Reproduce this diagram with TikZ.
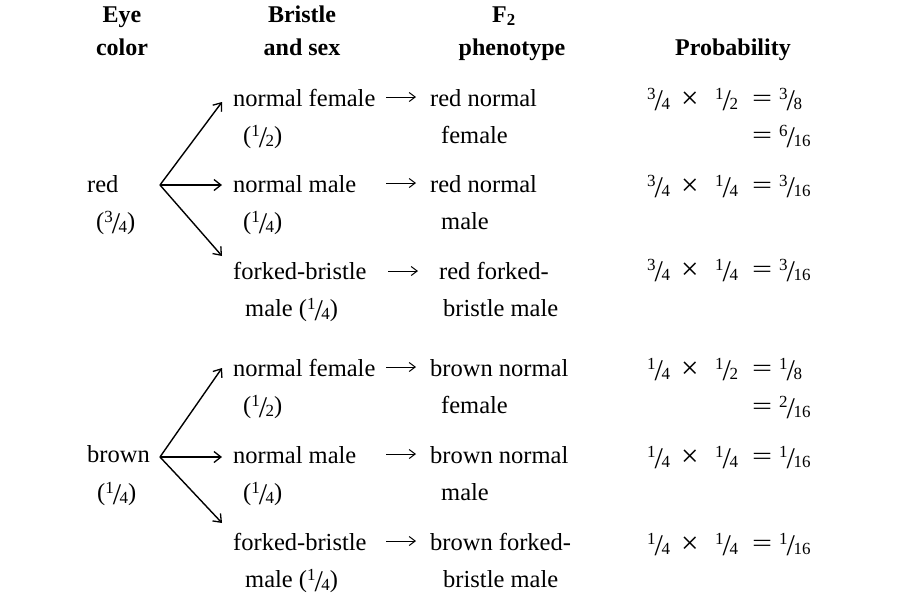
\documentclass[tikz,border=0pt]{standalone}
\usepackage{fontspec}
\setmainfont{Liberation Serif}
\usetikzlibrary{arrows.meta}
\newcommand\fr[2]{\raisebox{7pt}{\fontsize{17}{17}\selectfont #1}\kern-1pt\raisebox{-4pt}{\fontsize{30}{30}\selectfont /}\kern-1.5pt\raisebox{-3.5pt}{\fontsize{17}{17}\selectfont #2}}
\newcommand\eqs{\scalebox{1.45}[1]{=}}
\newcommand\tms{\raisebox{-2pt}{\fontsize{31}{31}\selectfont ×}}
\begin{document}
\begin{tikzpicture}[x=1pt,y=-1pt,
  txt/.style={inner sep=0pt,anchor=base west,font=\fontsize{24.5}{30}\selectfont},
  hd/.style={inner sep=0pt,anchor=base,font=\fontsize{24}{30}\selectfont\bfseries},
  forkarr/.style={-{Straight Barb[length=7pt,width=11pt,line width=1.3pt]},line width=1.4pt},
  txtarr/.style={-{Straight Barb[length=6pt,width=9pt,line width=1pt]},line width=1pt}]
\useasboundingbox (0,0) rectangle (900,598);
\newcommand\prow[5]{%
  \node[txt] (#1a) at (647,#2) {#3};
  \node[txt] (#1x) at (681,#2) {\tms};
  \node[txt] (#1b) at (715,#2) {#4};
  \node[txt] (#1e) at (752,#2) {\eqs};
  \node[txt] (#1r) at (779,#2) {#5};}
% headers
\node[hd] (h1a) at (122,22) {Eye};
\node[hd] (h1b) at (122,55) {color};
\node[hd] (h2a) at (302,22) {Bristle};
\node[hd] (h2b) at (302,55) {and sex};
\node[hd] (h3a) at (504,22) {F\textsubscript{2}};
\node[hd] (h3b) at (512,55) {phenotype};
\node[hd] (h4) at (733,55) {Probability};
% red group
\node[txt] (red) at (87,192) {red};
\node[txt] (redp) at (96,229) {(\fr34)};
\coordinate (rf) at (160,185);
\coordinate (rt1) at (222,102);
\coordinate (rt2) at (222,185);
\coordinate (rt3) at (222,256);
\draw[forkarr] (rf) -- (rt1);
\draw[forkarr] (rf) -- (rt2);
\draw[forkarr] (rf) -- (rt3);
\node[txt] (b1) at (233,106) {normal female};
\node[txt] (b1p) at (243,143) {(\fr12)};
\node[txt] (b2) at (233,192) {normal male};
\node[txt] (b2p) at (243,229) {(\fr14)};
\node[txt] (b3) at (233,279) {forked-bristle};
\node[txt] (b3p) at (245,316) {male (\fr14)};
\coordinate (a1s) at (386,97); \coordinate (a1e) at (416,97);
\coordinate (a2s) at (386,183); \coordinate (a2e) at (416,183);
\coordinate (a3s) at (388,271); \coordinate (a3e) at (418,271);
\draw[txtarr] (a1s) -- (a1e);
\draw[txtarr] (a2s) -- (a2e);
\draw[txtarr] (a3s) -- (a3e);
\node[txt] (p1) at (430,106) {red normal};
\node[txt] (p1b) at (441,143) {female};
\node[txt] (p2) at (430,192) {red normal};
\node[txt] (p2b) at (441,229) {male};
\node[txt] (p3) at (439,279) {red forked-};
\node[txt] (p3b) at (443,316) {bristle male};
\prow{q1}{106}{\fr34}{\fr12}{\fr38}
\node[txt] (q1f) at (752,143) {\eqs};
\node[txt] (q1g) at (779,143) {\fr6{16}};
\prow{q2}{193}{\fr34}{\fr14}{\fr3{16}}
\prow{q3}{277}{\fr34}{\fr14}{\fr3{16}}
% brown group
\node[txt] (brown) at (87,462) {brown};
\node[txt] (brownp) at (97,500) {(\fr14)};
\coordinate (bf) at (160,457);
\coordinate (bt1) at (222,368);
\coordinate (bt2) at (222,457);
\coordinate (bt3) at (222,523);
\draw[forkarr] (bf) -- (bt1);
\draw[forkarr] (bf) -- (bt2);
\draw[forkarr] (bf) -- (bt3);
\node[txt] (b4) at (233,376) {normal female};
\node[txt] (b4p) at (243,413) {(\fr12)};
\node[txt] (b5) at (233,463) {normal male};
\node[txt] (b5p) at (243,500) {(\fr14)};
\node[txt] (b6) at (233,550) {forked-bristle};
\node[txt] (b6p) at (245,587) {male (\fr14)};
\coordinate (a4s) at (386,367); \coordinate (a4e) at (416,367);
\coordinate (a5s) at (386,454); \coordinate (a5e) at (416,454);
\coordinate (a6s) at (386,541); \coordinate (a6e) at (416,541);
\draw[txtarr] (a4s) -- (a4e);
\draw[txtarr] (a5s) -- (a5e);
\draw[txtarr] (a6s) -- (a6e);
\node[txt] (p4) at (430,376) {brown normal};
\node[txt] (p4b) at (441,413) {female};
\node[txt] (p5) at (430,463) {brown normal};
\node[txt] (p5b) at (441,500) {male};
\node[txt] (p6) at (430,550) {brown forked-};
\node[txt] (p6b) at (443,587) {bristle male};
\prow{q4}{376}{\fr14}{\fr12}{\fr18}
\node[txt] (q4f) at (752,414) {\eqs};
\node[txt] (q4g) at (779,414) {\fr2{16}};
\prow{q5}{464}{\fr14}{\fr14}{\fr1{16}}
\prow{q6}{551}{\fr14}{\fr14}{\fr1{16}}
\end{tikzpicture}
\end{document}
